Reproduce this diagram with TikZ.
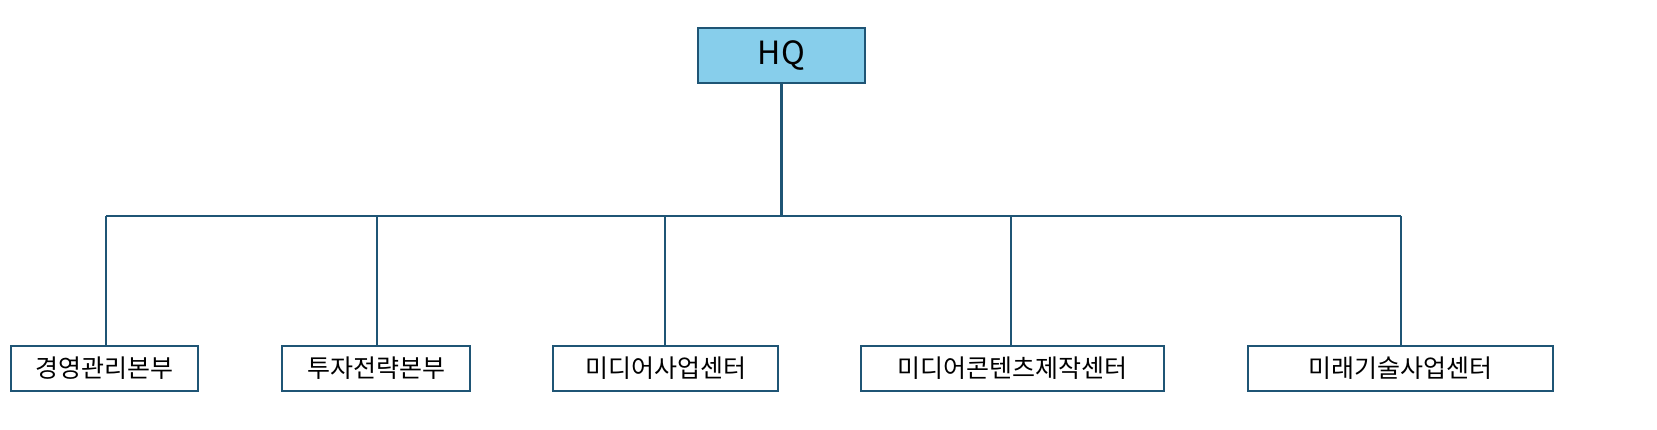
\documentclass[tikz,border=0pt]{standalone}
\usepackage{fontspec}
\newfontfamily\kr{Noto Sans CJK KR}
\definecolor{edge}{HTML}{1F5575}
\definecolor{hqfill}{HTML}{87CEEB}
\begin{document}
\begin{tikzpicture}[x=1pt,y=-1pt,
  box/.style={draw=edge,line width=1.3pt,fill=white,minimum height=45pt,inner sep=0pt,font=\kr\fontsize{25}{28}\selectfont},
  conn/.style={draw=edge,line width=2.8pt}]
\useasboundingbox (0,0) rectangle (1657,429);
\node[box,fill=hqfill,minimum width=167pt,minimum height=55pt,font=\kr\fontsize{32}{36}\selectfont] (hq) at (781.5,55.5) {HQ};
\node[box,minimum width=187pt] (b1) at (104.5,368.5) {경영관리본부};
\node[box,minimum width=188pt] (b2) at (376,368.5) {투자전략본부};
\node[box,minimum width=225pt] (b3) at (665.5,368.5) {미디어사업센터};
\node[box,minimum width=303pt] (b4) at (1012.5,368.5) {미디어콘텐츠제작센터};
\node[box,minimum width=305pt] (b5) at (1400.5,368.5) {미래기술사업센터};
\coordinate (bl) at (106,216);
\coordinate (br) at (1401,216);
\coordinate (bm) at (781.5,216);
\draw[conn] (bl) -- (br);
\draw[conn] (hq.south) -- (bm);
\draw[conn] (bl) -- (bl |- b1.north);
\draw[conn] (377,216) -- (377,346);
\draw[conn] (665,216) -- (665,346);
\draw[conn] (1011,216) -- (1011,346);
\draw[conn] (br) -- (br |- b5.north);
\end{tikzpicture}
\end{document}
